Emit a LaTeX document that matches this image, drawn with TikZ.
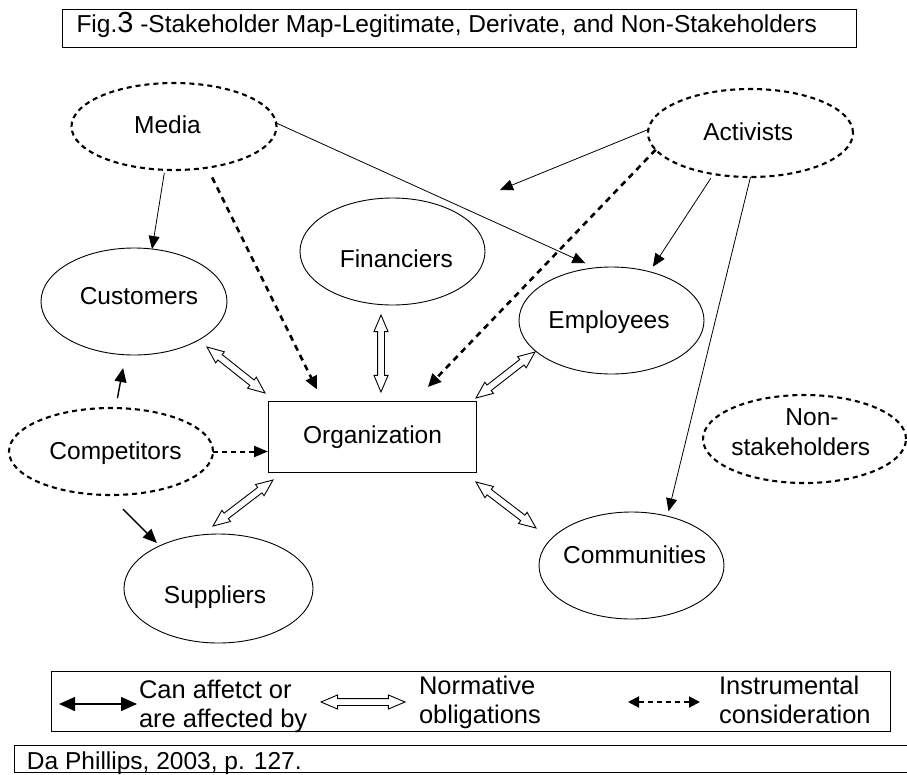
\documentclass[tikz,border=0pt]{standalone}
\usepackage{fontspec}
\setmainfont{Liberation Sans}
\usetikzlibrary{shapes.geometric,shapes.arrows,arrows.meta,calc}
\tikzset{
 stk/.style={ellipse, draw, line width=0.9pt, inner sep=0pt, outer sep=0pt},
 dstk/.style={ellipse, draw, line width=2.1pt, dash pattern=on 5pt off 4pt, inner sep=0pt, outer sep=0pt},
 lbl/.style={anchor=base, inner sep=0pt, outer sep=0pt, font=\fontsize{24.5}{29}\selectfont},
 lglbl/.style={anchor=base west, inner sep=0pt, outer sep=0pt, font=\fontsize{25.5}{30}\selectfont},
 thinarr/.style={line width=0.8pt, -{Triangle[length=13pt,width=11pt]}},
 medarr/.style={line width=1.4pt, -{Triangle[length=14pt,width=12pt]}},
 dasharr/.style={line width=2.6pt, dash pattern=on 6pt off 5pt, -{Triangle[length=13pt,width=12pt]}},
 cdasharr/.style={line width=2pt, dash pattern=on 5pt off 4pt, -{Triangle[length=14pt,width=11pt]}},
 hollowdbl/.style={double arrow, draw, line width=0.9pt, fill=white, inner xsep=0pt, inner ysep=3pt,
   double arrow head extend=3.6pt, double arrow tip angle=46, outer sep=0pt},
 boxnode/.style={draw, line width=0.9pt, inner sep=0pt, outer sep=0pt, anchor=north west}
}
\newcommand\dblarr[2]{\path let \p1=(#1), \p2=(#2), \n1={atan2(\y2-\y1,\x2-\x1)}, \n2={veclen(\x2-\x1,\y2-\y1)} in node[hollowdbl, rotate=\n1, minimum height=\n2] at ($(#1)!0.5!(#2)$) {};}
\begin{document}
\begin{tikzpicture}[x=1pt,y=-1pt]
\useasboundingbox (0,0) rectangle (907,774);
\fill[white] (0,0) rectangle (907,774);

% title
\node[boxnode, minimum width=794pt, minimum height=38pt] (titlebox) at (62,9.5) {};
\node[lbl, anchor=base west] (title) at (76.5,32) {Fig.{\fontsize{29}{29}\selectfont 3} -Stakeholder Map-Legitimate, Derivate, and Non-Stakeholders};

% stakeholders
\node[dstk, minimum width=205pt, minimum height=87pt] (media) at (174,126.5) {};
\node[lbl] (mediat) at (167.5,133) {Media};
\node[dstk, minimum width=205pt, minimum height=88pt] (act) at (750.5,133) {};
\node[lbl] (actt) at (748.3,140) {Activists};
\node[stk, minimum width=186pt, minimum height=107pt] (cust) at (134,301.5) {};
\node[lbl] (custt) at (139,304) {Customers};
\node[stk, minimum width=185pt, minimum height=107pt] (fin) at (392.5,251.5) {};
\node[lbl] (fint) at (396.3,267) {Financiers};
\node[stk, minimum width=185pt, minimum height=107pt] (emp) at (611.5,320.5) {};
\node[lbl] (empt) at (609,328) {Employees};
\node[draw, line width=0.9pt, inner sep=0pt, outer sep=0pt, minimum width=208pt, minimum height=71pt] (org) at (372,436.5) {};
\node[lbl] (orgt) at (372.5,443) {Organization};
\node[dstk, minimum width=204pt, minimum height=87pt] (comp) at (111,451.5) {};
\node[lbl] (compt) at (115.5,459) {Competitors};
\node[dstk, minimum width=203pt, minimum height=88pt] (non) at (804.5,439) {};
\node[lbl] (nont1) at (812,425) {Non-};
\node[lbl] (nont2) at (800.8,455) {stakeholders};
\node[stk, minimum width=189pt, minimum height=109pt] (sup) at (218.5,588.5) {};
\node[lbl] (supt) at (215,603) {Suppliers};
\node[stk, minimum width=185pt, minimum height=107pt] (comm) at (631.5,565.5) {};
\node[lbl] (commt) at (634.7,563) {Communities};

% solid arrows
\draw[thinarr, shorten <=3pt] (media.258) -- (cust.71);
\draw[thinarr, shorten >=11pt] (media.2) -- (emp.107);
\coordinate (actfree) at (500,190);
\draw[thinarr] (act.178) -- (actfree);
\draw[thinarr, shorten <=5pt, shorten >=6pt] (act.228.5) -- (emp.52.4);
\draw[thinarr, shorten >=5pt] (act.-90) -- (comm.54.5);
\draw[medarr, shorten <=10pt, shorten >=13.5pt] (comp.84.7) -- (cust.261.1);
\draw[medarr, shorten <=20pt, shorten >=4pt] (comp.267.4) -- (sup.144);

% dashed arrows
\draw[dasharr, shorten <=11pt, shorten >=13pt] (media.-51.5) -- ($(org.north west)!0.263!(org.north east)$);
\draw[dasharr, shorten >=19.5pt] (act.190) -- ($(org.north west)!0.704!(org.north east)$);
\draw[cdasharr] (comp.east) -- (comp.east -| org.west);

% double hollow arrows
\coordinate (d1a) at (207,347); \coordinate (d1b) at (265,393);
\coordinate (d2a) at (381,315); \coordinate (d2b) at (381,392);
\coordinate (d3a) at (535,352); \coordinate (d3b) at (476,398);
\coordinate (d4a) at (273,480); \coordinate (d4b) at (213,526);
\coordinate (d5a) at (476,482); \coordinate (d5b) at (536,528);
\dblarr{d1a}{d1b}
\dblarr{d2a}{d2b}
\dblarr{d3a}{d3b}
\dblarr{d4a}{d4b}
\dblarr{d5a}{d5b}

% legend
\node[boxnode, minimum width=839pt, minimum height=60pt] (legend) at (51,671) {};
\coordinate (l1a) at (59,704); \coordinate (l1b) at (137,704);
\draw[line width=1.5pt, {Triangle[length=16pt,width=14pt]}-{Triangle[length=16pt,width=14pt]}] (l1a) -- (l1b);
\node[lglbl] (lt1) at (139,698) {Can affetct or};
\node[lglbl] (lt2) at (139,727) {are affected by};
\coordinate (l2a) at (321,702); \coordinate (l2b) at (405,702);
\dblarr{l2a}{l2b}
\node[lglbl] (lt3) at (419,694) {Normative};
\node[lglbl] (lt4) at (419,723) {obligations};
\coordinate (l3a) at (628,702); \coordinate (l3b) at (700,702);
\draw[line width=2pt, dash pattern=on 5pt off 4pt, {Triangle[length=11pt,width=11pt]}-{Triangle[length=11pt,width=11pt]}] (l3a) -- (l3b);
\node[lglbl] (lt5) at (719,694) {Instrumental};
\node[lglbl] (lt6) at (719,723) {consideration};

% citation
\node[boxnode, minimum width=900pt, minimum height=27pt] (citebox) at (14,745) {};
\node[lbl, anchor=base west] (cite) at (27,769) {Da Phillips, 2003, p. 127.};
\end{tikzpicture}
\end{document}
